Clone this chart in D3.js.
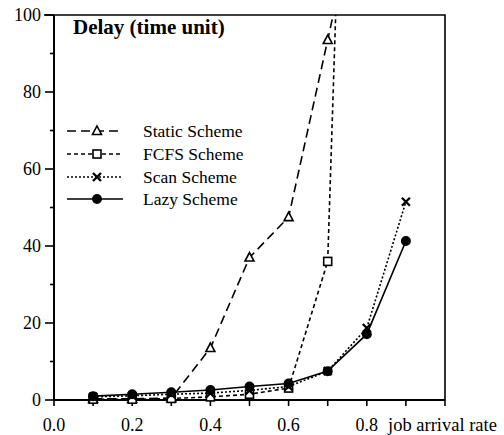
<!DOCTYPE html>
<html lang="en">
<head>
  <meta charset="utf-8">
  <title>Delay vs job arrival rate</title>
  <style>
    html,body { margin:0; padding:0; background:#fff; }
    svg { display:block; }
  </style>
  <script src="https://d3js.org/d3.v7.min.js"></script>
</head>
<body>
<svg width="504" height="435" font-family="'Liberation Serif', 'DejaVu Serif Condensed', 'DejaVu Serif', serif"></svg>
<script>
// job arrival rate
const rates = [0.1, 0.2, 0.3, 0.4, 0.5, 0.6, 0.7, 0.8, 0.9];

// delay values (last points of static/fcfs go off the top)
const staticDelay = [0.3, 0.3, 0.5, 13.5, 37, 47.5, 93.5, 140];
const fcfsDelay   = [0.2, 0.2, 0.4, 0.8, 1.5, 3.1, 36, 350];
const scanDelay   = [0.8, 1.1, 1.5, 1.8, 2.5, 3.5, 7.5, 18.7, 51.5];
const lazyDelay   = [1.0, 1.5, 2.0, 2.6, 3.5, 4.3, 7.5, 17.1, 41.3];

const seriesNames = ["Static Scheme", "FCFS Scheme", "Scan Scheme", "Lazy Scheme"];

const xTicks = [0.0, 0.1, 0.2, 0.3, 0.4, 0.5, 0.6, 0.7, 0.8, 0.9, 1.0];
const xLabels = [0.0, 0.2, 0.4, 0.6, 0.8];
const yTicks = d3.range(0, 101, 10);
const yLabels = [0, 20, 40, 60, 80, 100];

const series = [
  { name: seriesNames[0], values: staticDelay, dash: "9,5", marker: "triangle" },
  { name: seriesNames[1], values: fcfsDelay,   dash: "4,3", marker: "square" },
  { name: seriesNames[2], values: scanDelay,   dash: "2,2", marker: "cross" },
  { name: seriesNames[3], values: lazyDelay,   dash: null,  marker: "circle" }
];

const svg = d3.select("svg");
const m = { left: 54, right: 445, top: 15, bottom: 400 };

const x = d3.scaleLinear().domain([0, 1]).range([m.left, m.right]);
const y = d3.scaleLinear().domain([0, 100]).range([m.bottom, m.top]);

svg.append("defs").append("clipPath").attr("id", "plot")
  .append("rect").attr("x", m.left).attr("y", m.top)
  .attr("width", m.right - m.left).attr("height", m.bottom - m.top);

// frame: top and right borders
svg.append("path")
  .attr("d", `M${m.left - 10},${m.top}H${m.right}V${m.bottom}`)
  .attr("fill", "none").attr("stroke", "#000").attr("stroke-width", 1.6);

// y axis
const yAxis = svg.append("g").attr("transform", `translate(${m.left},0)`);
yAxis.append("line").attr("x1", 0).attr("x2", 0).attr("y1", m.top).attr("y2", m.bottom)
  .attr("stroke", "#000").attr("stroke-width", 2);
yAxis.selectAll("line.tick").data(yTicks).enter().append("line")
  .attr("class", "tick")
  .attr("x1", d => yLabels.includes(d) ? -9 : -4).attr("x2", 0)
  .attr("y1", d => y(d)).attr("y2", d => y(d))
  .attr("stroke", "#000").attr("stroke-width", 1.6);
yAxis.selectAll("text").data(yLabels).enter().append("text")
  .attr("x", -13).attr("y", d => y(d)).attr("dy", "0.35em")
  .attr("text-anchor", "end").attr("font-size", 18)
  .text(d => d);

// x axis
const xAxis = svg.append("g").attr("transform", `translate(0,${m.bottom})`);
xAxis.append("line").attr("x1", m.left).attr("x2", m.right).attr("y1", 0).attr("y2", 0)
  .attr("stroke", "#000").attr("stroke-width", 2);
xAxis.selectAll("line.tick").data(xTicks).enter().append("line")
  .attr("class", "tick")
  .attr("x1", d => x(d)).attr("x2", d => x(d)).attr("y1", 0).attr("y2", 6)
  .attr("stroke", "#000").attr("stroke-width", 1.6);
xAxis.selectAll("text").data(xLabels).enter().append("text")
  .attr("x", d => x(d)).attr("y", 31)
  .attr("text-anchor", "middle").attr("font-size", 18)
  .text(d => d.toFixed(1));
xAxis.append("text").attr("x", 388).attr("y", 31).attr("font-size", 18.5)
  .text("job arrival rate");

// title
svg.append("text").attr("x", 73).attr("y", 34)
  .attr("font-size", 21).attr("font-weight", "bold")
  .text("Delay (time unit)");

function drawMarker(g, type, cx, cy) {
  if (type === "triangle") {
    g.append("path").attr("d", `M${cx},${cy - 5}L${cx + 4.5},${cy + 3.5}L${cx - 4.5},${cy + 3.5}Z`)
      .attr("fill", "#fff").attr("stroke", "#000").attr("stroke-width", 1.6);
  } else if (type === "square") {
    g.append("rect").attr("x", cx - 4).attr("y", cy - 4).attr("width", 8).attr("height", 8)
      .attr("fill", "#fff").attr("stroke", "#000").attr("stroke-width", 1.6);
  } else if (type === "cross") {
    g.append("path").attr("d", `M${cx - 4},${cy - 4}L${cx + 4},${cy + 4}M${cx + 4},${cy - 4}L${cx - 4},${cy + 4}`)
      .attr("stroke", "#000").attr("stroke-width", 2.4);
  } else {
    g.append("circle").attr("cx", cx).attr("cy", cy).attr("r", 5).attr("fill", "#000");
  }
}

const line = d3.line().x((d, i) => x(rates[i])).y(d => y(d));
const plot = svg.append("g").attr("clip-path", "url(#plot)");

series.forEach(s => {
  plot.append("path").attr("d", line(s.values))
    .attr("fill", "none").attr("stroke", "#000").attr("stroke-width", 1.6)
    .attr("stroke-dasharray", s.dash);
});
series.forEach(s => {
  const mg = svg.append("g");
  s.values.forEach((v, i) => {
    if (v <= 100) drawMarker(mg, s.marker, x(rates[i]), y(v));
  });
});

// legend
const legendY = [131, 154, 177, 199];
series.forEach((s, i) => {
  const ly = legendY[i];
  svg.append("line").attr("x1", 67).attr("x2", 123).attr("y1", ly).attr("y2", ly)
    .attr("stroke", "#000").attr("stroke-width", 1.6).attr("stroke-dasharray", s.dash);
  drawMarker(svg.append("g"), s.marker, 97, ly);
  svg.append("text").attr("x", 143).attr("y", ly).attr("dy", "0.35em")
    .attr("font-size", 17.5).text(s.name);
});
</script>
</body>
</html>
